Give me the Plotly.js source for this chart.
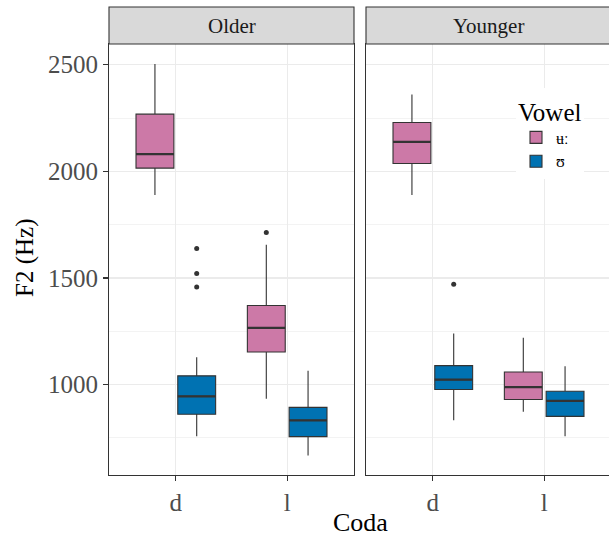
<!DOCTYPE html>
<html><head><meta charset="utf-8">
<script src="https://cdn.plot.ly/plotly-3.0.1.min.js"></script>
<style>html,body{margin:0;padding:0;overflow:hidden;background:#fff}</style>
</head><body><div id="chart"></div>
<script>
// ---- data ----
const codas = ['d', 'l'];
const facets = ['Older', 'Younger'];
const vowels = ['ʉː', 'ʊ'];
const tickVals = [1000, 1500, 2000, 2500];
const tickText = ['1000', '1500', '2000', '2500'];
const minorVals = [750, 1250, 1750, 2250];

// box statistics per coda [d, l]
const older_uu_lower = [1889, 933];
const older_uu_q1 = [2015, 1153];
const older_uu_med = [2081, 1266];
const older_uu_q3 = [2268, 1371];
const older_uu_upper = [2503, 1656];

const older_u_lower = [758, 668];
const older_u_q1 = [861, 756];
const older_u_med = [945, 832];
const older_u_q3 = [1041, 893];
const older_u_upper = [1128, 1065];

const younger_uu_lower = [1889, 872];
const younger_uu_q1 = [2037, 930];
const younger_uu_med = [2138, 988];
const younger_uu_q3 = [2229, 1059];
const younger_uu_upper = [2360, 1220];

const younger_u_lower = [833, 758];
const younger_u_q1 = [977, 851];
const younger_u_med = [1023, 924];
const younger_u_q3 = [1089, 969];
const younger_u_upper = [1240, 1086];

// outliers
const older_uu_outCoda = ['l'];
const older_uu_outVal = [1713];
const older_u_outCoda = ['d', 'd', 'd'];
const older_u_outVal = [1638, 1521, 1458];
const younger_uu_outCoda = [];
const younger_uu_outVal = [];
const younger_u_outCoda = ['d'];
const younger_u_outVal = [1471];

// ---- style / layout ----
const W = 612, H = 537;
const FONT = 'Liberation Serif, Times New Roman, serif';
const colors = ['#CC79A7', '#0072B2'];
const DODGE = 0.1875, BOXW = 0.34;
const offsets = [-DODGE, DODGE];
const px = p => p / W;
const py = p => 1 - p / H;

const series = [
  {facet: 0, v: 0, lo: older_uu_lower, q1: older_uu_q1, med: older_uu_med, q3: older_uu_q3, hi: older_uu_upper, oc: older_uu_outCoda, ov: older_uu_outVal},
  {facet: 0, v: 1, lo: older_u_lower, q1: older_u_q1, med: older_u_med, q3: older_u_q3, hi: older_u_upper, oc: older_u_outCoda, ov: older_u_outVal},
  {facet: 1, v: 0, lo: younger_uu_lower, q1: younger_uu_q1, med: younger_uu_med, q3: younger_uu_q3, hi: younger_uu_upper, oc: younger_uu_outCoda, ov: younger_uu_outVal},
  {facet: 1, v: 1, lo: younger_u_lower, q1: younger_u_q1, med: younger_u_med, q3: younger_u_q3, hi: younger_u_upper, oc: younger_u_outCoda, ov: younger_u_outVal}
];

const traces = [];
series.forEach(s => {
  const xa = s.facet === 0 ? 'x' : 'x2';
  const ya = s.facet === 0 ? 'y' : 'y2';
  const centers = codas.map((c, i) => i + 1 + offsets[s.v]);
  traces.push({
    type: 'box', orientation: 'v',
    x: centers,
    q1: s.q1, median: s.med, q3: s.q3, lowerfence: s.lo, upperfence: s.hi,
    width: BOXW, whiskerwidth: 0, boxpoints: false,
    fillcolor: colors[s.v], line: {color: '#333333', width: 1.1},
    name: vowels[s.v], legendgroup: vowels[s.v], showlegend: s.facet === 0,
    xaxis: xa, yaxis: ya, hoverinfo: 'skip'
  });
  // thicker median bars (ggplot fatten)
  const mx = [], my = [];
  centers.forEach((c, i) => {
    mx.push(c - BOXW / 2, c + BOXW / 2, null);
    my.push(s.med[i], s.med[i], null);
  });
  traces.push({
    type: 'scatter', mode: 'lines', x: mx, y: my,
    line: {color: '#333333', width: 2.2}, connectgaps: false,
    showlegend: false, xaxis: xa, yaxis: ya, hoverinfo: 'skip'
  });
  if (s.ov.length) {
    traces.push({
      type: 'scatter', mode: 'markers',
      x: s.oc.map(c => codas.indexOf(c) + 1 + offsets[s.v]), y: s.ov,
      marker: {color: '#333333', size: 5},
      showlegend: false, xaxis: xa, yaxis: ya, hoverinfo: 'skip'
    });
  }
});

const lineCol = '#333333';
const tickFont = {family: FONT, size: 25, color: '#4d4d4d'};
function xAxis(dom, anchor) {
  return {
    domain: dom, anchor: anchor, range: [0.4, 2.6],
    tickmode: 'array', tickvals: [1, 2], ticktext: codas,
    showgrid: true, gridcolor: '#ebebeb', gridwidth: 1.1, zeroline: false,
    showline: true, linecolor: lineCol, linewidth: 1.1, mirror: true,
    ticks: 'outside', ticklen: 5, tickcolor: lineCol, tickwidth: 1.1,
    tickfont: tickFont, fixedrange: true
  };
}
const yDom = [py(475), py(44)];
const yBase = {
  domain: yDom, range: [576, 2597],
  tickmode: 'array', tickvals: tickVals, ticktext: tickText,
  minor: {tickmode: 'array', tickvals: minorVals, showgrid: true, gridcolor: '#ebebeb', gridwidth: 0.6, ticks: ''},
  showgrid: true, gridcolor: '#ebebeb', gridwidth: 1.1, zeroline: false,
  showline: true, linecolor: lineCol, linewidth: 1.1, mirror: true,
  tickfont: tickFont, fixedrange: true
};

const layout = {
  width: W, height: H,
  margin: {l: 0, r: 0, t: 0, b: 0},
  paper_bgcolor: '#ffffff', plot_bgcolor: '#ffffff',
  font: {family: FONT, color: '#000000'},
  boxmode: 'overlay',
  xaxis: xAxis([px(109), px(354)], 'y'),
  xaxis2: xAxis([px(366), px(611)], 'y2'),
  yaxis: Object.assign({}, yBase, {anchor: 'x', ticks: 'outside', ticklen: 5, tickcolor: lineCol, tickwidth: 1.1}),
  yaxis2: Object.assign({}, yBase, {anchor: 'x2', matches: 'y', showticklabels: false, ticks: ''}),
  showlegend: true,
  legend: {
    x: px(516), y: py(88), xanchor: 'left', yanchor: 'top',
    bgcolor: '#ffffff', borderwidth: 0,
    title: {text: 'Vowel', font: {family: FONT, size: 25, color: '#000000'}},
    font: {family: FONT, size: 16, color: '#000000'},
    itemwidth: 30, tracegroupgap: 0
  },
  shapes: [
    {type: 'rect', xref: 'paper', yref: 'paper', x0: px(109), x1: px(354), y0: py(44), y1: py(7),
     fillcolor: '#d9d9d9', line: {color: lineCol, width: 1.1}},
    {type: 'rect', xref: 'paper', yref: 'paper', x0: px(366), x1: px(611), y0: py(44), y1: py(7),
     fillcolor: '#d9d9d9', line: {color: lineCol, width: 1.1}}
  ],
  annotations: [
    {text: facets[0], xref: 'paper', yref: 'paper', x: px(231.5), y: py(26), showarrow: false,
     xanchor: 'center', yanchor: 'middle', font: {family: FONT, size: 21, color: '#1a1a1a'}},
    {text: facets[1], xref: 'paper', yref: 'paper', x: px(488.5), y: py(26), showarrow: false,
     xanchor: 'center', yanchor: 'middle', font: {family: FONT, size: 21, color: '#1a1a1a'}},
    {text: 'F2 (Hz)', xref: 'paper', yref: 'paper', x: px(25), y: py(258), showarrow: false,
     textangle: -90, xanchor: 'center', yanchor: 'middle', font: {family: FONT, size: 25, color: '#000000'}},
    {text: 'Coda', xref: 'paper', yref: 'paper', x: px(360), y: py(522), showarrow: false,
     xanchor: 'center', yanchor: 'middle', font: {family: FONT, size: 26, color: '#000000'}}
  ]
};

Plotly.newPlot('chart', traces, layout, {displayModeBar: false, staticPlot: true});
</script></body></html>
